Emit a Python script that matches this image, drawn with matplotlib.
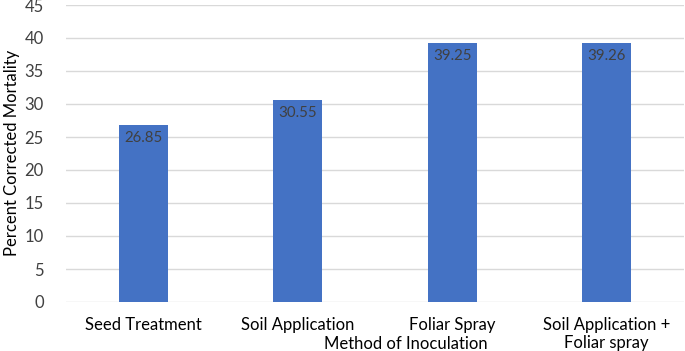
import matplotlib
matplotlib.use("Agg")
import matplotlib.pyplot as plt
import numpy as np

categories = ["Seed Treatment", "Soil Application", "Foliar Spray", "Soil Application +\nFoliar spray"]
values = [26.85, 30.55, 39.25, 39.26]
labels = ["26.85", "30.55", "39.25", "39.26"]
yticks = [0, 5, 10, 15, 20, 25, 30, 35, 40, 45]

plt.rcParams['font.family'] = ['Lato', 'DejaVu Sans']

W, H = 685, 351
fig = plt.figure(figsize=(W/100, H/100), dpi=100)
ax = fig.add_axes([66/W, 1-302/H, (684-66)/W, (302-5)/H])

x = np.arange(len(categories))
ax.bar(x, values, width=0.317, color="#4472C4", zorder=3)
for xi, v, lab in zip(x, values, labels):
    ax.text(xi, v - 0.9, lab, ha="center", va="top", fontsize=10.8, color="#404040", zorder=4)

ax.set_xlim(-0.5, len(categories) - 0.5)
ax.set_ylim(0, 45)
ax.set_yticks(yticks)
ax.set_yticklabels([str(t) for t in yticks], fontsize=12, color="#404040")
ax.set_xticks(x)
ax.set_xticklabels(categories, fontsize=12, color="#000000", linespacing=1.15)
ax.tick_params(axis="both", length=0)
ax.tick_params(axis="y", pad=16)
ax.tick_params(axis="x", pad=11)
ax.grid(axis="y", color="#D9D9D9", linewidth=1, zorder=0)
for s in ["top", "right", "left", "bottom"]:
    ax.spines[s].set_visible(False)

fig.text(12/W, 1-153/H, "Percent Corrected Mortality", rotation=90, ha="center", va="center", fontsize=12)
fig.text(406/W, 1-344/H, "Method of Inoculation", ha="center", va="center", fontsize=12)

fig.savefig("out.png", dpi=100)
